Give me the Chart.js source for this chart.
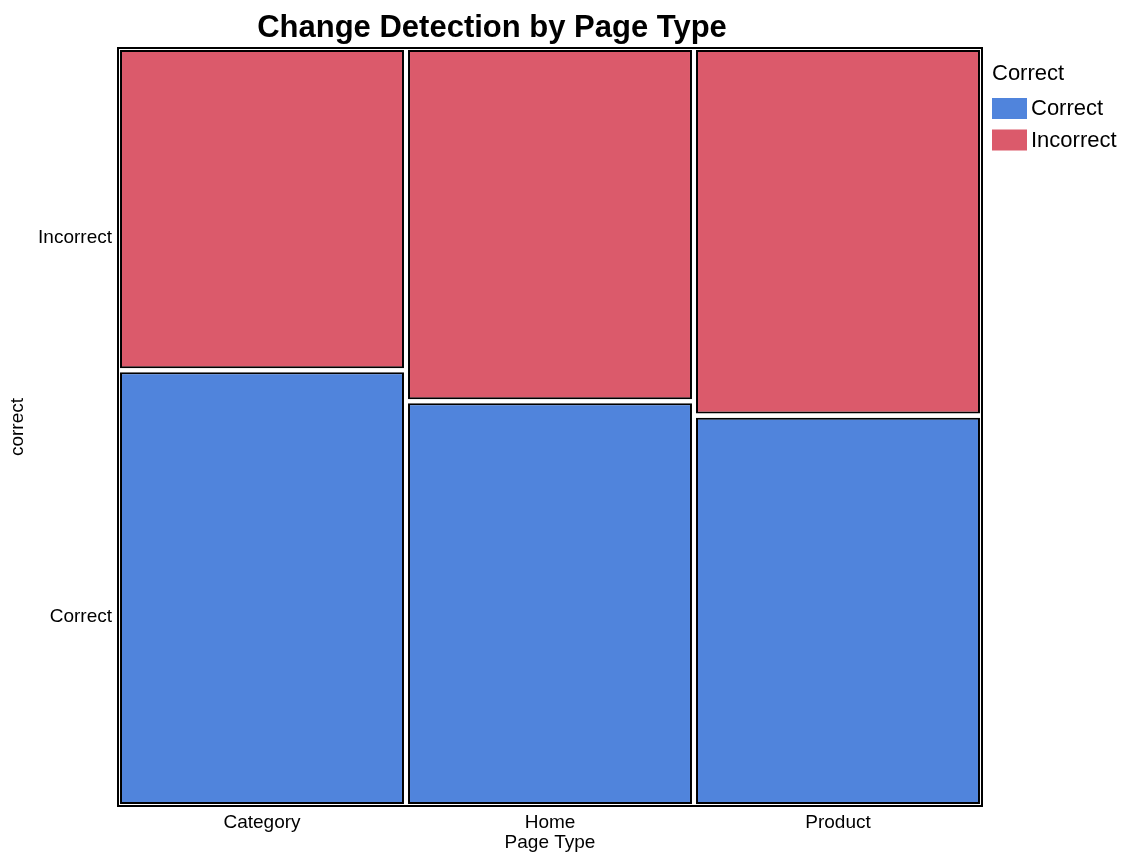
<!DOCTYPE html>
<html>
<head>
<meta charset="utf-8">
<script src="https://cdn.jsdelivr.net/npm/chart.js@4/dist/chart.umd.min.js"></script>
<style>
  body { margin: 0; background: #fff; }
  #wrap { width: 1121px; height: 852px; position: relative; }
</style>
</head>
<body>
<div id="wrap"><canvas id="mosaic"></canvas></div>
<script>
// page types and share of correct answers in each
const pageTypes = ["Category", "Home", "Product"];
const correctShare = [0.575, 0.534, 0.515];
const outcomes = ["Correct", "Incorrect"];
const outcomeColors = ["#5084DC", "#DB5A6B"];
const yTickValues = [0.25, 0.75];
const yTickLabels = ["Correct", "Incorrect"];

const gap = 0.0053; // white space between tiles

const correctData = correctShare.map(p => [gap / 2, p - gap / 2]);
const incorrectData = correctShare.map(p => [p + gap / 2, 1 - gap / 2]);

const font = "'Liberation Sans', Arial, Helvetica, sans-serif";

// frame round the plot area, the title and the legend
const framePlugin = {
    id: "frame",
    afterDatasetsDraw(chart) {
        const a = chart.chartArea;
        const ctx = chart.ctx;
        ctx.save();
        ctx.strokeStyle = "#000";
        ctx.lineWidth = 2;
        ctx.strokeRect(a.left, a.top, a.right - a.left, a.bottom - a.top);
        ctx.restore();
    },
    afterDraw(chart) {
        const ctx = chart.ctx;
        const a = chart.chartArea;
        ctx.save();
        ctx.fillStyle = "#000";
        ctx.font = "bold 31px " + font;
        ctx.textAlign = "center";
        ctx.textBaseline = "middle";
        ctx.fillText("Change Detection by Page Type", 492, 28);

        // legend
        const lx = a.right + 10;
        ctx.textAlign = "left";
        ctx.font = "22px " + font;
        ctx.fillText("Correct", lx, 74);
        chart.data.datasets.forEach((ds, i) => {
            const y = 98 + i * 31.5;
            ctx.fillStyle = ds.backgroundColor;
            ctx.fillRect(lx, y, 35, 21);
            ctx.fillStyle = "#000";
            ctx.fillText(ds.label, lx + 39, y + 11);
        });
        ctx.restore();
    }
};

new Chart(document.getElementById("mosaic"), {
    type: "bar",
    data: {
        labels: pageTypes,
        datasets: [
            {
                label: outcomes[0],
                data: correctData,
                backgroundColor: outcomeColors[0],
                borderColor: "#000",
                borderWidth: 2,
                borderSkipped: false,
                grouped: false,
                barPercentage: 0.986,
                categoryPercentage: 1
            },
            {
                label: outcomes[1],
                data: incorrectData,
                backgroundColor: outcomeColors[1],
                borderColor: "#000",
                borderWidth: 2,
                borderSkipped: false,
                grouped: false,
                barPercentage: 0.986,
                categoryPercentage: 1
            }
        ]
    },
    options: {
        responsive: true,
        maintainAspectRatio: false,
        animation: false,
        layout: { padding: { top: 48, right: 139, left: 0, bottom: 0 } },
        plugins: {
            tooltip: { enabled: false },
            legend: { display: false }
        },
        scales: {
            x: {
                grid: { display: false, drawTicks: false, tickLength: 0 },
                border: { display: false },
                ticks: { color: "#000", font: { family: font, size: 19 }, padding: 5 },
                title: {
                    display: true,
                    text: "Page Type",
                    color: "#000",
                    font: { family: font, size: 19, lineHeight: 1 },
                    padding: 0
                },
                afterFit(scale) { scale.height = 46; }
            },
            y: {
                min: 0,
                max: 1,
                grid: { display: false, drawTicks: false, tickLength: 0 },
                border: { display: false },
                afterBuildTicks(scale) {
                    scale.ticks = yTickValues.map(v => ({ value: v }));
                },
                ticks: {
                    color: "#000",
                    font: { family: font, size: 19 },
                    padding: 6,
                    callback(value) {
                        const i = yTickValues.indexOf(value);
                        return i >= 0 ? yTickLabels[i] : "";
                    }
                },
                title: {
                    display: true,
                    text: "correct",
                    color: "#000",
                    font: { family: font, size: 19, lineHeight: 1 },
                    padding: { top: 8, bottom: 0 }
                },
                afterFit(scale) { scale.width = 118; }
            }
        }
    },
    plugins: [framePlugin]
});
</script>
</body>
</html>
